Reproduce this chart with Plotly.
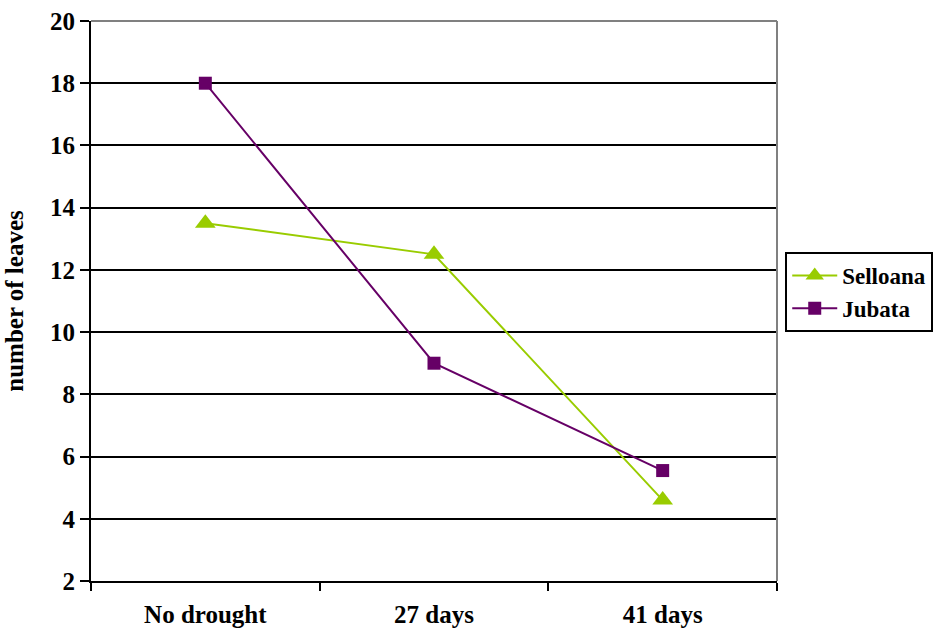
import plotly.graph_objects as go

# Leaf counts under increasing drought duration
categories = ["No drought", "27 days", "41 days"]
selloana = [13.5, 12.5, 4.6]
jubata = [18.0, 9.0, 5.55]
y_ticks = [2, 4, 6, 8, 10, 12, 14, 16, 18, 20]

FONT = "Liberation Serif, Times New Roman, serif"

fig = go.Figure()
fig.add_trace(go.Scatter(
    x=categories, y=selloana, name="Selloana", mode="lines+markers",
    line=dict(color="#99CC00", width=2),
    marker=dict(symbol="triangle-up", size=18, color="#99CC00"),
))
fig.add_trace(go.Scatter(
    x=categories, y=jubata, name="Jubata", mode="lines+markers",
    line=dict(color="#660066", width=2),
    marker=dict(symbol="square", size=13, color="#660066"),
))

fig.update_layout(
    width=934, height=629,
    margin=dict(l=91, r=157, t=21, b=48, autoexpand=False),
    paper_bgcolor="white", plot_bgcolor="white",
    font=dict(family=FONT, color="black", size=25, weight="bold"),
    showlegend=True,
    legend=dict(
        x=1.012, y=0.5875, xanchor="left", yanchor="top",
        bordercolor="black", borderwidth=2, bgcolor="white",
        font=dict(size=23, family=FONT, weight="bold"),
        tracegroupgap=0, itemwidth=45,
    ),
    xaxis=dict(
        type="category", range=[-0.5, 2.5], automargin=False,
        showline=True, linecolor="black", linewidth=2,
        ticks="outside", tickson="boundaries", ticklen=8,
        tickcolor="black", tickwidth=2,
        showgrid=False, zeroline=False,
        ticklabelstandoff=10,
        tickfont=dict(size=25, family=FONT, weight="bold"),
    ),
    yaxis=dict(
        range=[2, 20], tickvals=y_ticks, automargin=False,
        showline=True, linecolor="black", linewidth=2,
        ticks="outside", ticklen=9, tickcolor="black", tickwidth=2,
        showgrid=True, gridcolor="black", gridwidth=2,
        zeroline=False,
        tickfont=dict(size=25, family=FONT, weight="bold"),
        title=dict(text="number of leaves", standoff=19,
                   font=dict(size=25, family=FONT, weight="bold")),
    ),
)

# Gray frame on the top and right sides of the plot area
fig.add_shape(type="line", xref="x domain", yref="y domain",
              x0=0, x1=1, y0=1, y1=1, line=dict(color="#808080", width=2),
              layer="above")
fig.add_shape(type="line", xref="x domain", yref="y domain",
              x0=1, x1=1, y0=0, y1=1, line=dict(color="#808080", width=2),
              layer="above")

fig.write_html("out.html")
